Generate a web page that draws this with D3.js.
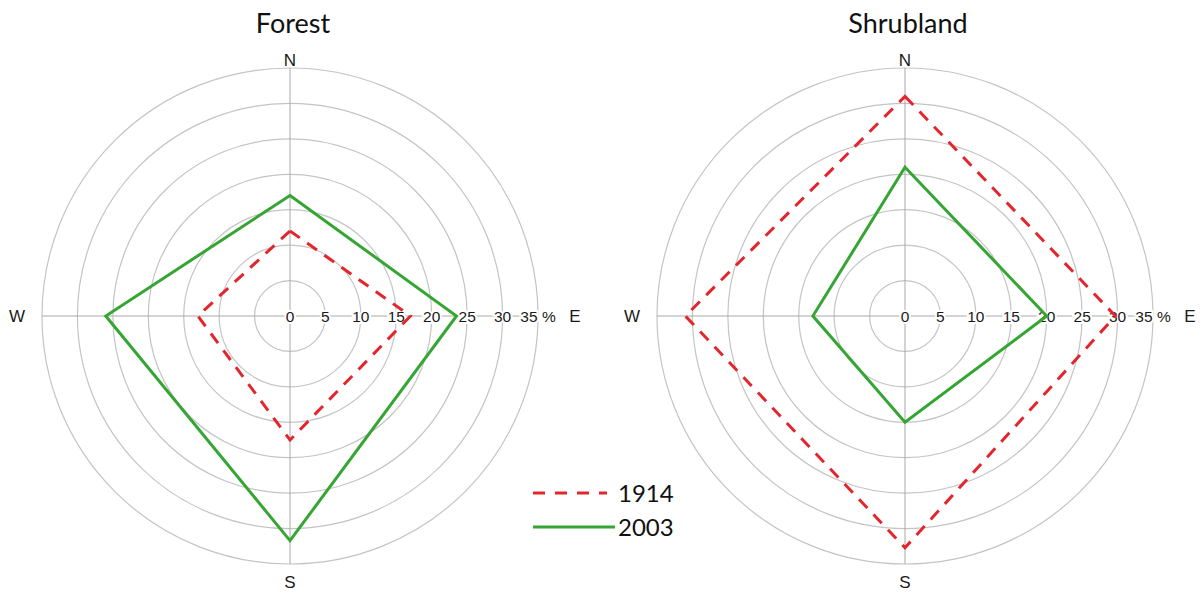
<!DOCTYPE html>
<html>
<head>
<meta charset="utf-8">
<script src="https://cdn.jsdelivr.net/npm/d3@7"></script>
<style>
  body { margin: 0; background: #fff; }
  svg { display: block; }
</style>
</head>
<body>
<svg id="chart" width="1204" height="593"></svg>
<script>
// Compass directions, clockwise from north
const directions = ["N", "E", "S", "W"];
const years = ["1914", "2003"];

// Share of aspect (%) per direction
const forest1914 = [12, 17, 17.5, 13];
const forest2003 = [17, 23.5, 31.7, 26];
const shrub1914 = [31, 29.7, 32.7, 31];
const shrub2003 = [21, 20, 15, 13];

const panelTitles = ["Forest", "Shrubland"];
const tickValues = [0, 5, 10, 15, 20, 25, 30, 35];
const tickLabels = ["0", "5", "10", "15", "20", "25", "30", "35 %"];

const panels = [
  { title: panelTitles[0], cx: 290, series: [forest1914, forest2003] },
  { title: panelTitles[1], cx: 905, series: [shrub1914, shrub2003] }
];

const cy = 316;
const r = d3.scaleLinear().domain([0, 35]).range([0, 248]);
const angle = d3.scaleOrdinal().domain(directions).range([0, Math.PI / 2, Math.PI, 3 * Math.PI / 2]);

const seriesStyle = [
  { color: "#e3262d", dash: "12,9" },
  { color: "#35a534", dash: null }
];

const svg = d3.select("#chart");

const radial = d3.lineRadial()
  .angle((d, i) => angle(directions[i]))
  .radius(d => r(d))
  .curve(d3.curveLinearClosed);

panels.forEach(p => {
  const g = svg.append("g").attr("transform", `translate(${p.cx},${cy})`);

  // concentric grid rings
  g.selectAll("circle.ring")
    .data(tickValues.slice(1))
    .join("circle")
    .attr("class", "ring")
    .attr("r", d => r(d))
    .attr("fill", "none")
    .attr("stroke", "#c4c4c4")
    .attr("stroke-width", 1.2);

  // axis spokes
  const rmax = r(35);
  g.append("line").attr("x1", -rmax).attr("x2", rmax).attr("y1", 0).attr("y2", 0)
    .attr("stroke", "#a8a8a8").attr("stroke-width", 1);
  g.append("line").attr("y1", -rmax).attr("y2", rmax).attr("x1", 0).attr("x2", 0)
    .attr("stroke", "#a8a8a8").attr("stroke-width", 1);

  // radial tick labels along the east spoke
  g.selectAll("text.tick")
    .data(tickValues)
    .join("text")
    .attr("class", "tick")
    .attr("x", d => r(d))
    .attr("y", 0)
    .attr("dy", "0.36em")
    .attr("text-anchor", "middle")
    .attr("font-family", "Liberation Sans, Arial, sans-serif")
    .attr("font-size", 15.5)
    .attr("fill", "#1a1a1a")
    .attr("stroke", "#fff")
    .attr("stroke-width", 4)
    .attr("paint-order", "stroke")
    .text((d, i) => tickLabels[i]);

  // compass labels
  const dirFont = "Liberation Sans, Arial, sans-serif";
  const dirPos = {
    N: [0, -256], E: [285, 0], S: [0, 266], W: [-273, 0]
  };
  directions.forEach(d => {
    g.append("text")
      .attr("x", dirPos[d][0])
      .attr("y", dirPos[d][1])
      .attr("dy", "0.36em")
      .attr("text-anchor", "middle")
      .attr("font-family", dirFont)
      .attr("font-size", 17)
      .attr("fill", "#1a1a1a")
      .text(d);
  });

  // series polygons
  p.series.forEach((vals, i) => {
    g.append("path")
      .datum(vals)
      .attr("d", radial)
      .attr("fill", "none")
      .attr("stroke", seriesStyle[i].color)
      .attr("stroke-width", 3)
      .attr("stroke-linejoin", "miter")
      .attr("stroke-dasharray", seriesStyle[i].dash);
  });

  // panel title
  svg.append("text")
    .attr("x", p.cx + 3)
    .attr("y", 33)
    .attr("text-anchor", "middle")
    .attr("font-family", "Lato, Open Sans, sans-serif")
    .attr("font-size", 27)
    .attr("fill", "#111")
    .text(p.title);
});

// legend
const legend = svg.append("g").attr("transform", "translate(533,493)");
years.forEach((y, i) => {
  const row = legend.append("g").attr("transform", `translate(0,${i * 34})`);
  row.append("line")
    .attr("x1", 0).attr("x2", i === 0 ? 74 : 82)
    .attr("y1", 0).attr("y2", 0)
    .attr("stroke", seriesStyle[i].color)
    .attr("stroke-width", 3)
    .attr("stroke-dasharray", i === 0 ? "12,10" : null);
  row.append("text")
    .attr("x", 85)
    .attr("y", 0)
    .attr("dy", "0.36em")
    .attr("font-family", "Lato, Open Sans, sans-serif")
    .attr("font-size", 24)
    .attr("fill", "#111")
    .text(y);
});
</script>
</body>
</html>
